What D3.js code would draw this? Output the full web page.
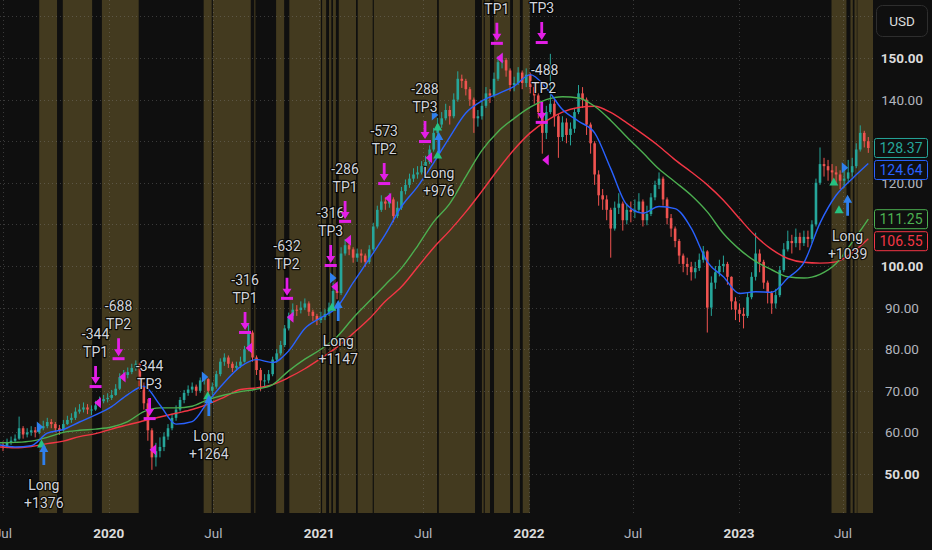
<!DOCTYPE html>
<html><head><meta charset="utf-8">
<script src="https://cdn.jsdelivr.net/npm/d3@7"></script>
<style>
html,body{margin:0;padding:0;background:#0f0f0f;overflow:hidden;}
svg{display:block;}
text{font-family:Roboto,"Liberation Sans",sans-serif;}
</style></head><body>
<svg id="chart" width="932" height="550"></svg>
<script>
// ---------- DATA ----------
const weekStart = "2019-06-24";   // weekly candles, one per week
const firstOpen = 56.6;
const closes = [57,56.5,57.5,58,58.5,61,59.5,60,60.5,60,
61,61.5,62.5,62,61,60.5,62,63,63.5,65,
65.5,66,65.5,65.5,66.5,67.5,68,68.3,69,70.5,
73.3,73.8,74.5,75.5,76.5,71,67,60.5,54,55.5,
56.5,59,61,63.5,65.5,67.8,69.5,70.3,71,70,
72.5,72.8,70,71,74,77,78,76.5,75.5,76,
77,80,84,78,75,72.5,72.5,74,77.5,79,
81,85,88,89.5,89.4,90,91,89,88,87,
87.7,88.5,90,94,93.5,103,105,104,102,103,
102.5,101,104,109.5,113.5,115.5,115,116,112,114,
118,119.5,121,122,122.5,124,125,128,132,134,
135.5,137.5,136,140,145,144.5,142.5,140,135.5,136,
138.5,141.5,141,145,149,149.5,147,143.5,144,146.5,
144,146,143,141,137,132,137,139,136,131,
134.5,131.5,133,137,141.5,140,134,129.5,122,117,
116,113.5,109,114,115,111,113.5,113,113.5,115.5,
111,112.5,116.5,119.5,121,116,111.5,109,106,102.5,
100.5,99.8,98.5,99.5,101.5,103.5,90,96,98.5,100,
100.5,97.4,91.5,89.5,88.5,88,92.5,97.4,103,101,
96,93.5,91,93,99,104,106,105.5,107,105.5,
107,106.5,110,120,124.5,124,123,122.5,122,120.5,
121,122.5,124,128,132,130,128.37];
const highs = [58,57.8,58.5,59,59.5,63.8,61.5,61,61.5,61.3,
62,62.8,63.5,63.2,62.5,61.8,63,64,64.6,66,
66.8,67.2,66.8,66.5,67.6,68.6,69,69.4,70.2,71.6,
74.2,75,75.6,76.5,77.3,76.8,72,68,61,57.5,
58.8,60,62,64.5,66.5,68.5,70.2,71.3,72,71.5,
73.2,74,73,72,74.8,77.8,79,78.5,77,77,
78.2,80.8,86,84.5,78.5,75.5,74,75,78.2,80,
82,85.8,88.8,91,90.6,91.5,92.2,91.5,89.5,88.5,
89,89.6,91.2,96,95.5,104.5,106.5,106,104.5,104.2,
104,103,105,110.4,114.5,117,116.5,117.5,116.5,115.5,
119,120.8,122.2,123.5,124,125.2,126.5,129,133.2,135.6,
137,139,138.5,141.5,146.8,146,145,143,140.5,137.5,
139.8,143,142.5,146.5,150.5,151,150,147.5,145.5,147.8,
147,147.5,146.5,144,141.5,137.5,138.5,151,140,136.5,
136,135.5,134.5,138,143.5,143,140.5,134.5,130,123,
118.5,117,114,115.5,117.5,115.5,115,115.5,116,117.5,
116,114.5,117.5,120.5,122.5,121.5,116.5,112.5,109.5,106.5,
103,102,101,101,103,104.8,103.8,97.5,100,101.5,
102.5,101,97.5,92.5,91,90,93.5,98.5,108,104,
101.5,96.5,94,94.5,100,105.5,108.5,107.5,109,108,
108.5,108.5,111,121,128.5,126,125.5,124.5,124,123,
124,125.5,126,129.5,133.8,132.5,131];
const lows = [55.8,55.5,56.2,57,57.6,58.2,58.5,58.8,59.2,58.8,
59.6,60.5,61,61,60,59.4,60.2,61.8,62.3,63,
64.5,64.8,64.4,64.2,65.2,66.2,67,67.2,67.8,68.8,
70.2,72.5,73,74,74.8,70.2,65.5,58,51,51.8,
54,55.5,58.2,60.5,62.8,65,67,68.8,69.5,68.8,
69.5,71.5,69.2,69,70.5,73.5,76,75.5,74.5,74.8,
75.5,76.8,79.5,77,73.8,70,71,71.8,73.5,76.8,
78.5,80.5,84.5,87.3,88,88.6,89.4,88,86.8,85.8,
86.3,87,88,89.5,92,93,102.5,102.6,100.8,101,
100.8,99.8,100.5,103.5,109,113,113.5,114,110.5,111.5,
113.5,117.2,118.8,120.2,121,122,123.2,124.5,127.5,131.5,
133.2,135,134,135.5,139.5,142.8,141,138.5,132,133.5,
135.2,138,139.2,140.5,144.5,147.5,145.5,142,142,143.5,
142.5,143,141.5,139,135.5,127,130.5,136.5,133.5,126,
130,129.5,129,132,136.5,138,131.5,127,119.5,114.5,
113.5,111,102,108.5,112.5,108.5,110,110.5,111.5,113,
109.5,109.8,112,115.8,118.5,114.5,110,107,104.5,100.5,
98.5,97.8,96.5,97,98.8,100.8,84,88,94.5,97.5,
98.5,95.5,89.5,87,86.5,85,87.5,92,96.5,98.5,
94.5,91,88.5,89.8,92.5,98.5,103.5,103,104.5,103.8,
104.8,104.5,105.5,109.5,119.5,121.5,120.5,120,119.5,118.5,
118.8,120,121.5,123.5,127.5,128.5,127.2];

// moving averages, sampled every 4th weekly bar
const maStep = 4;
const maBlue = [57,56.5,56.8,59.8,60.7,62.5,64.2,66.2,69.1,71.1,66.6,62,62.6,67.5,72,75.8,77.5,76.8,79.6,85,87.6,90.1,96,101.7,107.6,114.3,119.1,124.8,131,136.8,139.7,141.4,143.2,146,142.8,137.6,134.8,132,123.4,114.7,112.7,114.3,113.8,109.1,101,97.4,93.4,93.8,93.7,97.1,100.8,110.3,117,121,124.64];
const maGreen = [57.5,57.6,57.9,58.8,60,60.5,60.8,61.3,62.6,65,65.9,65.9,66.3,67.9,69,69.8,70.4,71.5,74.8,77.6,80,83,87.5,91.5,95.5,99.5,104.8,110.6,115,121.5,127.8,132.3,135.5,138.2,140,140.7,140.4,138.4,135,131,127.2,123.3,120.2,117,113,107.8,104,101.1,99.1,97.4,97.1,98,100.6,105.7,111.25];
const maRed = [56.5,56.3,56.6,57.3,57.9,59,59.7,60.8,61.8,62.8,63.7,64.6,65.5,66.8,68.5,70.3,70.7,71.5,73.2,75.3,77.8,80.5,83.8,87.3,91.5,95,99.7,104.4,108.5,113,118,123.2,128,132,134.9,137,138.1,138.4,136.9,134.4,131.7,128.8,125.5,122.6,119.5,115.8,111.4,107.2,104,101.8,100.9,100.7,101,103.2,106.55];

// background highlight periods
const bandStarts = ["2019-09-02","2019-10-13","2019-12-20","2020-06-14","2020-06-30","2020-09-10","2020-10-18","2020-11-10","2021-01-06","2021-01-18","2021-01-25","2021-02-04","2021-03-09","2021-04-06","2021-07-28","2021-10-11","2021-10-16","2021-11-01","2021-12-04","2021-12-21","2023-06-11","2023-07-14","2023-07-21","2023-07-26"];
const bandEnds   = ["2019-10-03","2019-12-03","2020-02-22","2020-06-28","2020-09-04","2020-09-12","2020-11-01","2021-01-04","2021-01-13","2021-01-22","2021-01-30","2021-03-06","2021-04-04","2021-07-25","2021-09-29","2021-10-14","2021-10-25","2021-11-29","2021-12-16","2022-01-02","2023-07-07","2023-07-18","2023-07-25","2023-09-01"];

// long entries
const longDates  = ["2019-09-10","2020-06-23","2021-02-03","2021-07-28","2023-07-09"];
const longPrices = [57.2, 69.0, 91.8, 132.2, 117.1];
const longPnl    = ["+1376","+1264","+1147","+976","+1039"];
// take-profit exits
const tpDates  = ["2019-12-09","2020-01-18","2020-03-12","2020-08-25","2020-11-06","2021-01-21","2021-02-15","2021-04-24","2021-07-04","2021-11-06","2022-01-23","2022-01-23"];
const tpPrices = [70.9, 77.6, 63.2, 83.9, 92.1, 100, 110.6, 119.7, 129.8, 153.4, 153.6, 134.4];
const tpNames  = ["TP1","TP2","TP3","TP1","TP2","TP3","TP1","TP2","TP3","TP1","TP3","TP2"];
const tpPnl    = ["-344","-688","-344","-316","-632","-316","-286","-573","-288","","","-488"];
// magenta exit triangles
const exitDates  = ["2019-12-13","2020-01-25","2020-03-18","2020-09-01","2020-11-12","2021-01-28","2021-02-20","2021-05-01","2021-07-11","2021-11-11","2022-01-30"];
const exitPrices = [67.1, 73.3, 55.8, 80.3, 87.7, 95, 106.2, 116.3, 126, 150, 125.5];
// blue signal triangles
const sigDates  = ["2019-09-03","2020-06-16","2021-01-25","2021-07-21","2023-07-04"];
const sigPrices = [61.3, 73.3, 97.1, 136.3, 123.6];
// green trend triangles
const trendDates  = ["2019-09-06","2020-06-21","2021-01-23","2021-07-26","2021-07-26","2023-06-15","2023-06-24"];
const trendPrices = [57.2, 68.8, 90.1, 133.4, 126.7, 120.2, 113.5];

// axes
const priceGrid  = [50,60,70,80,90,100,110,120,130,140,150,160];
const priceTicks = [50,60,70,80,90,100,110,120,130,140,150];
const boldPrices = [50,100,150];
const timeTicks  = ["2019-07-01","2020-01-01","2020-07-01","2021-01-01","2021-07-01","2022-01-01","2022-07-01","2023-01-01","2023-07-01"];
const timeLabels = ["Jul","2020","Jul","2021","Jul","2022","Jul","2023","Jul"];

// ---------- DRAW ----------
const parse = d3.timeParse("%Y-%m-%d");
const W = 932, H = 550, plotR = 873, plotB = 513;
const C = {bg:"#0f0f0f", band:"#433a1f", up:"#26a69a", down:"#ef5350",
  blue:"#2962ff", green:"#4caf50", red:"#f23645", magenta:"#e31ee6",
  arrowBlue:"#2f80ed", tri:"#26c281", text:"#d1d4dc", axis:"#b2b5be"};

const x = d3.scaleTime().domain([parse("2019-07-01"), parse("2023-07-01")]).range([3, 843]);
const y = d3.scaleLinear().domain([50, 150]).range([474, 58]);

const svg = d3.select("#chart");
svg.append("rect").attr("width", W).attr("height", H).attr("fill", C.bg);
svg.append("defs").append("clipPath").attr("id", "plotClip")
  .append("rect").attr("x", 0).attr("y", 0).attr("width", plotR).attr("height", plotB);
const plot = svg.append("g").attr("clip-path", "url(#plotClip)");

// bands
plot.append("g").selectAll("rect").data(d3.zip(bandStarts, bandEnds)).join("rect")
  .attr("x", d => x(parse(d[0])))
  .attr("width", d => Math.max(1, x(parse(d[1])) - x(parse(d[0]))))
  .attr("y", 0).attr("height", plotB).attr("fill", C.band);

// grid
const grid = plot.append("g").attr("stroke", "rgba(140,140,140,0.35)").attr("stroke-width", 1)
  .attr("stroke-dasharray", "1,3");
grid.selectAll(".h").data(priceGrid).join("line").attr("class", "h")
  .attr("x1", 0).attr("x2", plotR).attr("y1", d => Math.round(y(d)) + 0.5).attr("y2", d => Math.round(y(d)) + 0.5);
grid.selectAll(".v").data(timeTicks).join("line").attr("class", "v")
  .attr("y1", 0).attr("y2", plotB).attr("x1", d => Math.round(x(parse(d))) + 0.5).attr("x2", d => Math.round(x(parse(d))) + 0.5);

// candles
const t0 = parse(weekStart);
const candles = closes.map((c, i) => ({
  d: d3.timeDay.offset(t0, 7 * i), o: i ? closes[i - 1] : firstOpen, c, h: highs[i], l: lows[i]
}));
const cg = plot.append("g");
cg.selectAll("line").data(candles).join("line")
  .attr("x1", d => x(d.d)).attr("x2", d => x(d.d))
  .attr("y1", d => y(d.h)).attr("y2", d => y(d.l))
  .attr("stroke", d => d.c >= d.o ? C.up : C.down).attr("stroke-width", 1);
cg.selectAll("rect").data(candles).join("rect")
  .attr("x", d => x(d.d) - 1.3).attr("width", 2.6)
  .attr("y", d => y(Math.max(d.o, d.c)))
  .attr("height", d => Math.max(1, Math.abs(y(d.o) - y(d.c))))
  .attr("fill", d => d.c >= d.o ? C.up : C.down);

// moving averages
const maLine = d3.line().x((v, k) => x(candles[Math.min(k * maStep, candles.length - 1)].d)).y(v => y(v))
  .curve(d3.curveMonotoneX);
[[maRed, C.red], [maGreen, C.green], [maBlue, C.blue]].forEach(([arr, col]) => {
  plot.append("path").datum(arr).attr("d", maLine).attr("fill", "none")
    .attr("stroke", col).attr("stroke-width", 1.4);
});

// markers
const mk = plot.append("g");
function label(txt, px, py) {
  mk.append("text").attr("x", px).attr("y", py + 5).attr("text-anchor", "middle")
    .attr("font-size", 14).attr("fill", C.text)
    .attr("stroke", "rgba(0,0,0,0.75)").attr("stroke-width", 2.5).attr("stroke-linejoin", "round")
    .attr("paint-order", "stroke").text(txt);
}
// green triangles
trendDates.forEach((d, i) => {
  mk.append("path").attr("transform", `translate(${x(parse(d))},${y(trendPrices[i])})`)
    .attr("d", "M0,-4.5L4.5,3.5L-4.5,3.5Z").attr("fill", C.tri);
});
// blue right triangles
sigDates.forEach((d, i) => {
  mk.append("path").attr("transform", `translate(${x(parse(d))},${y(sigPrices[i])})`)
    .attr("d", "M3.5,0L-3,-5.5L-3,5.5Z").attr("fill", C.arrowBlue);
});
// magenta left triangles
exitDates.forEach((d, i) => {
  mk.append("path").attr("transform", `translate(${x(parse(d))},${y(exitPrices[i])})`)
    .attr("d", "M-3.5,0L3,-5.5L3,5.5Z").attr("fill", C.magenta);
});
// long arrows
longDates.forEach((d, i) => {
  const px = x(parse(d)), py = y(longPrices[i]);
  mk.append("path").attr("transform", `translate(${px},${py})`)
    .attr("d", "M0,0L4.5,8L1.4,8L1.4,21L-1.4,21L-1.4,8L-4.5,8Z").attr("fill", C.arrowBlue);
  label("Long", px, py + 41);
  label(longPnl[i], px, py + 59);
});
// TP arrows
tpDates.forEach((d, i) => {
  const px = x(parse(d)), py = y(tpPrices[i]);
  const g = mk.append("g").attr("transform", `translate(${px},${py})`).attr("fill", C.magenta);
  g.append("path").attr("d", "M-1.4,-21L1.4,-21L1.4,-10L4.5,-10L0,-3L-4.5,-10L-1.4,-10Z");
  g.append("rect").attr("x", -6).attr("y", -2).attr("width", 12).attr("height", 3);
  if (tpPnl[i]) label(tpPnl[i], px + (i === 11 ? 3 : 0), py - 53);
  label(tpNames[i], px + (i === 11 ? 2 : 0), py - 35);
});

// last value tags (positions resolved first so covered tick labels are hidden)
const tags = [
  {v: closes[closes.length - 1], col: C.up},
  {v: maBlue[maBlue.length - 1], col: C.blue},
  {v: maGreen[maGreen.length - 1], col: C.green},
  {v: maRed[maRed.length - 1], col: C.red}
].sort((a, b) => b.v - a.v);
let prev = -100;
tags.forEach(t => {
  let cy = y(t.v);
  if (cy < prev + 22) cy = prev + 22;
  prev = cy;
  t.cy = cy;
});

// y axis labels
const visibleTicks = priceTicks.filter(v => tags.every(t => Math.abs(y(v) - t.cy) > 11));
svg.append("g").selectAll("text").data(visibleTicks).join("text")
  .attr("x", 902).attr("y", d => y(d) + 5).attr("text-anchor", "middle")
  .attr("font-size", 13.5)
  .attr("font-weight", d => boldPrices.includes(d) ? 700 : 400)
  .attr("fill", d => boldPrices.includes(d) ? "#dcdcdc" : C.axis)
  .text(d => d3.format(".2f")(d));

// x axis labels
svg.append("g").selectAll("text").data(timeTicks).join("text")
  .attr("x", d => x(parse(d))).attr("y", 538).attr("text-anchor", "middle")
  .attr("font-size", 13.5)
  .attr("font-weight", (d, i) => timeLabels[i] === "Jul" ? 400 : 700)
  .attr("fill", (d, i) => timeLabels[i] === "Jul" ? C.axis : "#dcdcdc")
  .text((d, i) => timeLabels[i]);

tags.forEach(t => {
  const g = svg.append("g").attr("transform", `translate(874,${t.cy})`);
  g.append("rect").attr("x", 0.5).attr("y", -9.5).attr("width", 53).attr("height", 19).attr("rx", 2)
    .attr("fill", C.bg).attr("stroke", t.col).attr("stroke-width", 1);
  g.append("text").attr("x", 27).attr("y", 5).attr("text-anchor", "middle")
    .attr("font-size", 14).attr("fill", t.col).text(d3.format(".2f")(t.v));
});

// USD button
const ub = svg.append("g");
ub.append("rect").attr("x", 876.5).attr("y", 5.5).attr("width", 51).attr("height", 31).attr("rx", 6)
  .attr("fill", C.bg).attr("stroke", "#2e2e2e");
ub.append("text").attr("x", 902).attr("y", 26).attr("text-anchor", "middle")
  .attr("font-size", 13.5).attr("fill", "#dcdcdc").text("USD");
</script>
</body></html>
